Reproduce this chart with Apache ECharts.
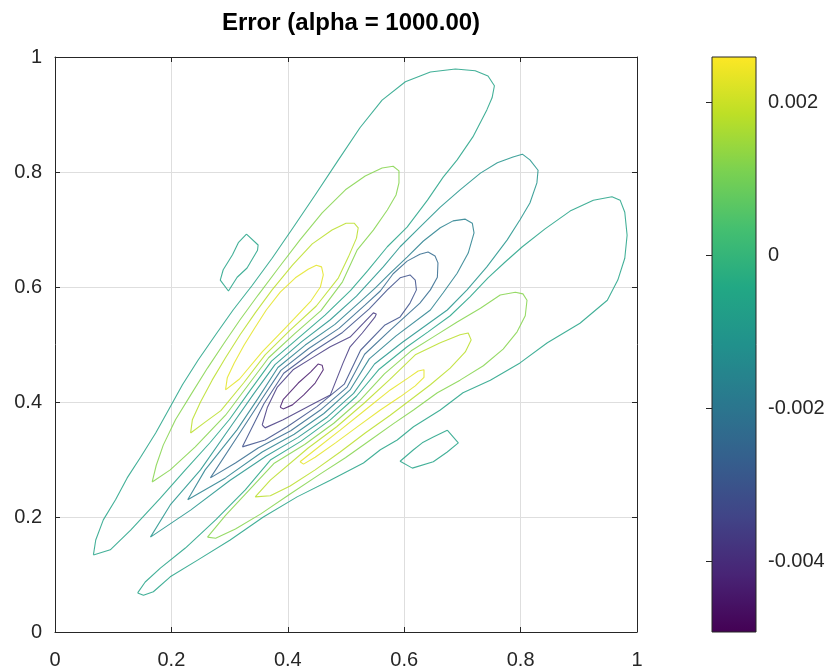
<!DOCTYPE html>
<html>
<head>
<meta charset="utf-8">
<title>Error (alpha = 1000.00)</title>
<script src="https://cdn.jsdelivr.net/npm/echarts@6/dist/echarts.min.js"></script>
<style>
html, body { margin: 0; padding: 0; background: #fff; }
#chart { width: 835px; height: 671px; }
</style>
</head>
<body>
<div id="chart"></div>
<script>
// axis ticks
var xTicks = [0, 0.2, 0.4, 0.6, 0.8, 1];
var yTicks = [0, 0.2, 0.4, 0.6, 0.8, 1];
var cbarTicks = [-0.004, -0.002, 0, 0.002];
var cbarMin = -0.00492;
var cbarMax = 0.00259;

// contour levels (valley N1..N6, outer T, lobes P1..P3), judged from line colours
var levels = [-0.0044, -0.0037, -0.0031, -0.0024, -0.0017, -0.0011, -0.0006, 0.0012, 0.0018, 0.0023];

// contour lines, [x, y]
var N1 = [[0.387,0.391],[0.392,0.404],[0.418,0.433],[0.439,0.452],[0.452,0.466],[0.459,0.464],[0.461,0.456],[0.447,0.433],[0.427,0.412],[0.408,0.395],[0.392,0.388],[0.387,0.391]];
var N2 = [[0.356,0.360],[0.365,0.391],[0.382,0.426],[0.409,0.456],[0.444,0.478],[0.473,0.496],[0.507,0.513],[0.530,0.537],[0.547,0.555],[0.552,0.553],[0.550,0.548],[0.528,0.520],[0.507,0.496],[0.495,0.468],[0.473,0.412],[0.444,0.397],[0.392,0.369],[0.361,0.355],[0.356,0.360]];
var N3 = [[0.322,0.322],[0.359,0.397],[0.393,0.450],[0.442,0.487],[0.494,0.521],[0.540,0.562],[0.571,0.595],[0.593,0.616],[0.610,0.621],[0.619,0.612],[0.621,0.595],[0.610,0.572],[0.593,0.548],[0.567,0.534],[0.525,0.490],[0.497,0.431],[0.450,0.392],[0.399,0.357],[0.361,0.334],[0.322,0.322]];
var N4 = [[0.267,0.268],[0.320,0.350],[0.354,0.403],[0.388,0.455],[0.436,0.493],[0.488,0.528],[0.533,0.569],[0.559,0.593],[0.581,0.623],[0.605,0.645],[0.627,0.657],[0.641,0.661],[0.653,0.654],[0.658,0.642],[0.657,0.617],[0.645,0.595],[0.627,0.572],[0.576,0.525],[0.532,0.483],[0.502,0.426],[0.456,0.386],[0.405,0.350],[0.349,0.320],[0.310,0.294],[0.267,0.268]];
var N5 = [[0.228,0.230],[0.258,0.282],[0.313,0.352],[0.348,0.405],[0.383,0.460],[0.430,0.499],[0.481,0.535],[0.526,0.576],[0.550,0.598],[0.576,0.624],[0.605,0.652],[0.633,0.680],[0.662,0.703],[0.684,0.715],[0.705,0.718],[0.717,0.711],[0.720,0.694],[0.710,0.659],[0.691,0.624],[0.667,0.590],[0.645,0.560],[0.586,0.515],[0.540,0.475],[0.507,0.421],[0.462,0.380],[0.411,0.344],[0.356,0.313],[0.293,0.268],[0.228,0.230]];
var N6 = [[0.164,0.165],[0.198,0.221],[0.250,0.282],[0.306,0.363],[0.342,0.415],[0.378,0.465],[0.424,0.505],[0.473,0.543],[0.518,0.584],[0.564,0.635],[0.593,0.670],[0.627,0.704],[0.662,0.739],[0.696,0.769],[0.731,0.798],[0.760,0.816],[0.787,0.826],[0.803,0.831],[0.816,0.821],[0.830,0.803],[0.828,0.781],[0.816,0.746],[0.799,0.717],[0.777,0.682],[0.742,0.635],[0.708,0.595],[0.674,0.560],[0.597,0.504],[0.549,0.466],[0.513,0.415],[0.468,0.374],[0.417,0.338],[0.363,0.306],[0.301,0.264],[0.233,0.212],[0.164,0.165]];
var T = [[0.066,0.134],[0.070,0.160],[0.083,0.195],[0.104,0.230],[0.124,0.268],[0.147,0.304],[0.173,0.346],[0.195,0.386],[0.219,0.430],[0.246,0.473],[0.276,0.517],[0.306,0.560],[0.339,0.603],[0.373,0.650],[0.409,0.703],[0.447,0.760],[0.487,0.821],[0.524,0.877],[0.562,0.925],[0.602,0.957],[0.645,0.974],[0.688,0.979],[0.722,0.976],[0.744,0.967],[0.755,0.950],[0.751,0.929],[0.742,0.908],[0.718,0.861],[0.691,0.821],[0.667,0.791],[0.640,0.751],[0.605,0.704],[0.571,0.670],[0.537,0.628],[0.508,0.594],[0.464,0.551],[0.418,0.511],[0.372,0.471],[0.336,0.421],[0.300,0.370],[0.267,0.330],[0.224,0.282],[0.181,0.233],[0.130,0.177],[0.095,0.143],[0.066,0.134]];
var P1 = [[0.167,0.261],[0.174,0.290],[0.186,0.325],[0.207,0.369],[0.233,0.412],[0.262,0.459],[0.291,0.503],[0.318,0.543],[0.349,0.586],[0.384,0.633],[0.421,0.682],[0.459,0.729],[0.499,0.769],[0.533,0.793],[0.562,0.807],[0.581,0.810],[0.591,0.802],[0.591,0.781],[0.586,0.760],[0.571,0.734],[0.547,0.699],[0.519,0.664],[0.494,0.609],[0.457,0.559],[0.411,0.518],[0.367,0.477],[0.330,0.427],[0.293,0.377],[0.241,0.322],[0.198,0.282],[0.167,0.261]];
var P2 = [[0.233,0.346],[0.236,0.369],[0.250,0.400],[0.270,0.438],[0.293,0.477],[0.318,0.517],[0.344,0.555],[0.373,0.595],[0.408,0.638],[0.442,0.675],[0.476,0.699],[0.500,0.711],[0.514,0.711],[0.521,0.703],[0.518,0.685],[0.504,0.652],[0.487,0.616],[0.449,0.567],[0.404,0.525],[0.361,0.482],[0.324,0.433],[0.285,0.385],[0.258,0.365],[0.233,0.346]];
var P3 = [[0.293,0.421],[0.296,0.442],[0.308,0.468],[0.325,0.499],[0.344,0.530],[0.363,0.560],[0.387,0.591],[0.413,0.616],[0.435,0.631],[0.449,0.638],[0.458,0.635],[0.461,0.621],[0.456,0.600],[0.440,0.576],[0.398,0.531],[0.356,0.487],[0.317,0.440],[0.293,0.421]];
var R0 = [[0.142,0.068],[0.155,0.087],[0.181,0.111],[0.224,0.146],[0.276,0.195],[0.327,0.247],[0.370,0.299],[0.423,0.332],[0.473,0.369],[0.518,0.410],[0.557,0.457],[0.605,0.496],[0.641,0.522],[0.679,0.550],[0.713,0.583],[0.744,0.616],[0.773,0.643],[0.803,0.670],[0.842,0.701],[0.885,0.732],[0.925,0.751],[0.957,0.757],[0.971,0.751],[0.979,0.730],[0.983,0.690],[0.979,0.650],[0.967,0.612],[0.949,0.577],[0.902,0.537],[0.846,0.503],[0.799,0.468],[0.748,0.438],[0.701,0.416],[0.662,0.386],[0.616,0.357],[0.588,0.334],[0.559,0.317],[0.530,0.294],[0.473,0.264],[0.416,0.235],[0.358,0.200],[0.301,0.160],[0.245,0.125],[0.198,0.096],[0.169,0.070],[0.152,0.064],[0.142,0.068]];
var R1 = [[0.262,0.165],[0.293,0.203],[0.376,0.293],[0.429,0.326],[0.479,0.363],[0.524,0.403],[0.566,0.449],[0.612,0.489],[0.653,0.515],[0.691,0.539],[0.731,0.563],[0.765,0.586],[0.791,0.591],[0.804,0.588],[0.811,0.577],[0.808,0.550],[0.794,0.522],[0.770,0.492],[0.736,0.463],[0.696,0.438],[0.657,0.416],[0.616,0.386],[0.581,0.362],[0.542,0.334],[0.499,0.303],[0.456,0.275],[0.404,0.240],[0.353,0.205],[0.310,0.179],[0.276,0.163],[0.262,0.165]];
var R2 = [[0.344,0.235],[0.370,0.264],[0.435,0.320],[0.484,0.357],[0.530,0.397],[0.575,0.439],[0.619,0.482],[0.662,0.503],[0.696,0.517],[0.710,0.520],[0.715,0.508],[0.705,0.487],[0.679,0.459],[0.645,0.430],[0.610,0.403],[0.576,0.377],[0.533,0.346],[0.490,0.313],[0.447,0.282],[0.404,0.254],[0.370,0.237],[0.344,0.235]];
var R3 = [[0.421,0.296],[0.447,0.317],[0.490,0.351],[0.533,0.386],[0.576,0.421],[0.607,0.442],[0.624,0.454],[0.634,0.456],[0.634,0.443],[0.619,0.428],[0.593,0.409],[0.559,0.386],[0.521,0.358],[0.482,0.329],[0.447,0.304],[0.427,0.292],[0.421,0.296]];
var S1 = [[0.329,0.692],[0.349,0.673],[0.348,0.664],[0.330,0.633],[0.313,0.617],[0.298,0.593],[0.284,0.612],[0.289,0.630],[0.305,0.656],[0.315,0.677],[0.329,0.692]];
var S2 = [[0.674,0.351],[0.693,0.329],[0.674,0.313],[0.650,0.296],[0.614,0.285],[0.593,0.297],[0.616,0.317],[0.631,0.329],[0.650,0.339],[0.674,0.351]];

var contours = [
  { level: levels[0], pts: N1 }, { level: levels[1], pts: N2 },
  { level: levels[2], pts: N3 }, { level: levels[3], pts: N4 },
  { level: levels[4], pts: N5 }, { level: levels[5], pts: N6 },
  { level: levels[6], pts: T },  { level: levels[6], pts: R0 },
  { level: levels[6], pts: S1 }, { level: levels[6], pts: S2 },
  { level: levels[7], pts: P1 }, { level: levels[7], pts: R1 },
  { level: levels[8], pts: P2 }, { level: levels[8], pts: R2 },
  { level: levels[9], pts: P3 }, { level: levels[9], pts: R3 }
];

var viridis = ['#440154','#482475','#414487','#355f8d','#2a788e','#21918c','#22a884','#44bf70','#7ad151','#bddf26','#fde725'];

function hexRgb(h) {
  return [parseInt(h.substr(1,2),16), parseInt(h.substr(3,2),16), parseInt(h.substr(5,2),16)];
}
function cmap(v) {
  var t = (v - cbarMin) / (cbarMax - cbarMin);
  t = Math.max(0, Math.min(1, t));
  var f = t * 10, i = Math.min(9, Math.floor(f)), r = f - i;
  var a = hexRgb(viridis[i]), b = hexRgb(viridis[i + 1]);
  return 'rgb(' + [0,1,2].map(function(k) { return Math.round(a[k] + (b[k] - a[k]) * r); }).join(',') + ')';
}

var txt = '#262626';
var font = 'Liberation Sans, Arial, sans-serif';

var chart = echarts.init(document.getElementById('chart'), null, { renderer: 'canvas' });

var series = contours.map(function(c) {
  return {
    type: 'line',
    xAxisIndex: 0,
    yAxisIndex: 0,
    data: c.pts,
    showSymbol: false,
    symbol: 'none',
    silent: true,
    lineStyle: { color: cmap(c.level), width: 1.1, opacity: 0.85 },
    z: 3
  };
});

// colour bar
series.push({
  type: 'custom',
  xAxisIndex: 2,
  yAxisIndex: 2,
  silent: true,
  encode: { x: [0, 2], y: [1, 3] },
  data: [[0, cbarMin, 1, cbarMax]],
  renderItem: function(params, api) {
    var p0 = api.coord([api.value(0), api.value(1)]);
    var p1 = api.coord([api.value(2), api.value(3)]);
    return {
      type: 'rect',
      shape: { x: p0[0], y: p1[1], width: p1[0] - p0[0], height: p0[1] - p1[1] },
      style: {
        fill: new echarts.graphic.LinearGradient(0, 1, 0, 0, viridis.map(function(c, i) {
          return { offset: i / 10, color: c };
        })),
        stroke: '#262626',
        lineWidth: 1
      }
    };
  }
});

var option = {
  backgroundColor: '#fff',
  animation: false,
  title: {
    text: 'Error (alpha = 1000.00)',
    left: 346,
    textAlign: 'center',
    top: 6,
    textStyle: { color: '#000', fontSize: 24, fontWeight: 'bold', fontFamily: font }
  },
  grid: [
    { left: 55, top: 57, width: 582, height: 575 },
    { left: 712, top: 57, width: 44, height: 575 }
  ],
  xAxis: [
    {
      type: 'value', gridIndex: 0, min: 0, max: 1, interval: 0.2, position: 'bottom',
      axisLine: { show: true, lineStyle: { color: txt, width: 1 } },
      axisTick: { show: true, inside: true, length: 5, lineStyle: { color: txt } },
      axisLabel: { color: txt, fontSize: 20, fontFamily: font, margin: 18,
        customValues: xTicks },
      splitLine: { show: true, lineStyle: { color: '#dedede', width: 1 } }
    },
    {
      type: 'value', gridIndex: 0, min: 0, max: 1, interval: 0.2, position: 'top',
      axisLine: { show: true, onZero: false, lineStyle: { color: txt, width: 1 } },
      axisTick: { show: true, inside: true, length: 5, lineStyle: { color: txt } },
      axisLabel: { show: false },
      splitLine: { show: false }
    },
    {
      type: 'value', gridIndex: 1, min: 0, max: 1, show: false
    }
  ],
  yAxis: [
    {
      type: 'value', gridIndex: 0, min: 0, max: 1, interval: 0.2, position: 'left',
      axisLine: { show: true, onZero: false, lineStyle: { color: txt, width: 1 } },
      axisTick: { show: true, inside: true, length: 5, lineStyle: { color: txt } },
      axisLabel: { color: txt, fontSize: 20, fontFamily: font, margin: 13,
        customValues: yTicks },
      splitLine: { show: true, lineStyle: { color: '#dedede', width: 1 } }
    },
    {
      type: 'value', gridIndex: 0, min: 0, max: 1, interval: 0.2, position: 'right',
      axisLine: { show: true, onZero: false, lineStyle: { color: txt, width: 1 } },
      axisTick: { show: true, inside: true, length: 5, lineStyle: { color: txt } },
      axisLabel: { show: false },
      splitLine: { show: false }
    },
    {
      type: 'value', gridIndex: 1, min: cbarMin, max: cbarMax, position: 'right',
      axisLine: { show: false },
      axisTick: { show: true, inside: true, length: 6, customValues: cbarTicks, lineStyle: { color: txt } },
      axisLabel: { color: txt, fontSize: 20, fontFamily: font, margin: 12, customValues: cbarTicks },
      splitLine: { show: false }
    },
    {
      type: 'value', gridIndex: 1, min: cbarMin, max: cbarMax, position: 'left',
      axisLine: { show: false },
      axisTick: { show: true, inside: true, length: 6, customValues: cbarTicks, lineStyle: { color: txt } },
      axisLabel: { show: false },
      splitLine: { show: false }
    }
  ],
  series: series
};

chart.setOption(option);
</script>
</body>
</html>
